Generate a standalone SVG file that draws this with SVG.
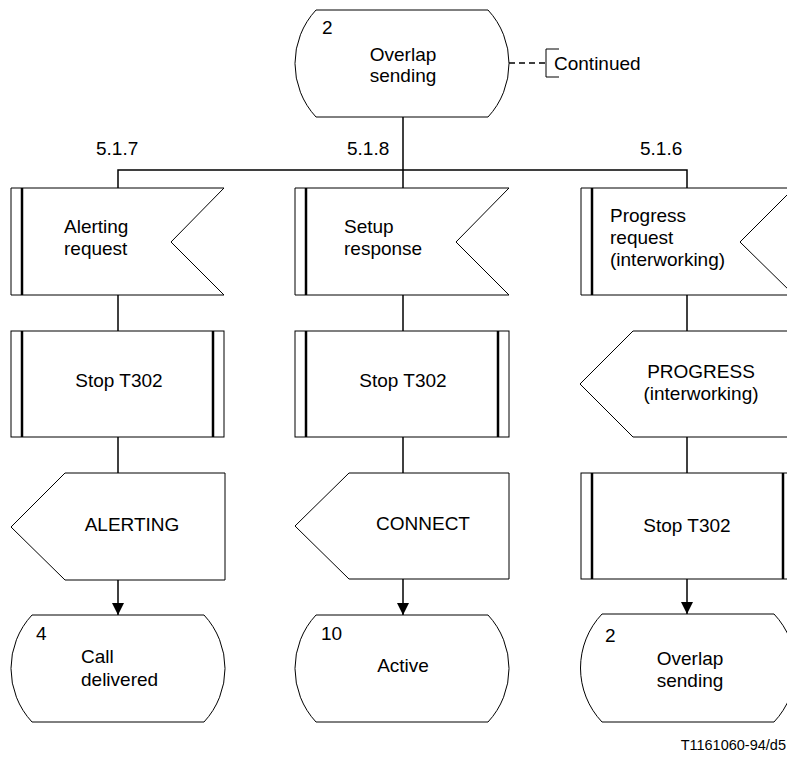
<svg xmlns="http://www.w3.org/2000/svg" width="787" height="758" viewBox="0 0 787 758">
<style>
.sh{fill:#fff;stroke:#000;stroke-width:1}
.bar{stroke:#000;stroke-width:2.5;fill:none}
.cn{stroke:#000;stroke-width:1.5;fill:none}
text{font-family:"Liberation Sans",Arial,sans-serif;font-size:19px;fill:#000}
.m{text-anchor:middle}
</style>
<defs>
<marker id="ah" markerUnits="userSpaceOnUse" markerWidth="12" markerHeight="12" refX="12" refY="6" orient="auto">
<path d="M0,0 L12,6 L0,12 Z" fill="#000"/>
</marker>
</defs>
<g id="connectors">
<line class="cn" x1="403" y1="117" x2="403" y2="188"/>
<polyline class="cn" points="118,188 118,170 687,170 687,188"/>
<line class="cn" x1="118" y1="295" x2="118" y2="331"/>
<line class="cn" x1="118" y1="437" x2="118" y2="473"/>
<line class="cn" x1="118" y1="580" x2="118" y2="615" marker-end="url(#ah)"/>
<line class="cn" x1="403" y1="295" x2="403" y2="331"/>
<line class="cn" x1="403" y1="437" x2="403" y2="473"/>
<line class="cn" x1="403" y1="579" x2="403" y2="615" marker-end="url(#ah)"/>
<line class="cn" x1="687" y1="295" x2="687" y2="331"/>
<line class="cn" x1="687" y1="437" x2="687" y2="473"/>
<line class="cn" x1="687" y1="579" x2="687" y2="614" marker-end="url(#ah)"/>
<line x1="509" y1="63" x2="546" y2="63" stroke="#000" stroke-width="1.5" stroke-dasharray="6,4"/>
</g>
<g id="labels">
<text x="96" y="155">5.1.7</text>
<text x="347" y="155">5.1.8</text>
<text x="640" y="155">5.1.6</text>
</g>
<g id="state-top">
<path class="sh" d="M316,10 H488 A78.6,78.6 0 0 1 488,117 H316 A78.6,78.6 0 0 1 316,10 Z"/>
<text x="322" y="34">2</text>
<text class="m" x="403" y="61">Overlap</text>
<text class="m" x="403" y="82">sending</text>
</g>
<g id="comment">
<path class="cn" style="stroke-width:1" d="M559,49 H546 V77 H559"/>
<text x="554" y="70">Continued</text>
</g>
<g id="in1">
<path class="sh" d="M11,188 H224 L171,242 L224,295 H11 Z"/>
<line class="bar" x1="22" y1="188" x2="22" y2="295"/>
<text x="64" y="233">Alerting</text>
<text x="64" y="255">request</text>
</g>
<g id="in2">
<path class="sh" d="M295,188 H509 L456,242 L509,295 H295 Z"/>
<line class="bar" x1="306" y1="188" x2="306" y2="295"/>
<text x="344" y="233">Setup</text>
<text x="344" y="255">response</text>
</g>
<g id="in3">
<path class="sh" d="M581,188 H794 L740,242 L794,295 H581 Z"/>
<line class="bar" x1="592" y1="188" x2="592" y2="295"/>
<text x="610" y="222">Progress</text>
<text x="610" y="244">request</text>
<text x="610" y="266">(interworking)</text>
</g>
<g id="proc1">
<rect class="sh" x="11" y="331" width="213" height="106"/>
<line class="bar" x1="22" y1="331" x2="22" y2="437"/>
<line class="bar" x1="213" y1="331" x2="213" y2="437"/>
<text class="m" x="119" y="387">Stop T302</text>
</g>
<g id="proc2">
<rect class="sh" x="295" y="331" width="214" height="106"/>
<line class="bar" x1="306" y1="331" x2="306" y2="437"/>
<line class="bar" x1="498" y1="331" x2="498" y2="437"/>
<text class="m" x="403" y="387">Stop T302</text>
</g>
<g id="out3">
<path class="sh" d="M633,331 H794 V437 H633 L580,384 Z"/>
<text class="m" x="701" y="378">PROGRESS</text>
<text class="m" x="701" y="400">(interworking)</text>
</g>
<g id="out1">
<path class="sh" d="M65,473 H225 V580 H65 L11,527 Z"/>
<text class="m" x="132" y="531">ALERTING</text>
</g>
<g id="out2">
<path class="sh" d="M349,473 H509 V579 H349 L295,526 Z"/>
<text class="m" x="423" y="530">CONNECT</text>
</g>
<g id="proc3">
<rect class="sh" x="581" y="473" width="213" height="106"/>
<line class="bar" x1="592" y1="473" x2="592" y2="579"/>
<line class="bar" x1="783" y1="473" x2="783" y2="579"/>
<text class="m" x="687" y="532">Stop T302</text>
</g>
<g id="state4">
<path class="sh" d="M32,615 H204 A78.6,78.6 0 0 1 204,722 H32 A78.6,78.6 0 0 1 32,615 Z"/>
<text x="36" y="640">4</text>
<text x="81" y="663">Call</text>
<text x="81" y="686">delivered</text>
</g>
<g id="state10">
<path class="sh" d="M316,615 H488 A78.6,78.6 0 0 1 488,722 H316 A78.6,78.6 0 0 1 316,615 Z"/>
<text x="321" y="640">10</text>
<text class="m" x="403" y="672">Active</text>
</g>
<g id="state2b">
<path class="sh" d="M602,614 H774 A78.6,78.6 0 0 1 774,722 H602 A78.6,78.6 0 0 1 602,614 Z"/>
<text x="605" y="642">2</text>
<text class="m" x="690" y="665">Overlap</text>
<text class="m" x="690" y="687">sending</text>
</g>
<text x="786" y="750" style="font-size:14.5px;text-anchor:end">T1161060-94/d5</text>
</svg>
